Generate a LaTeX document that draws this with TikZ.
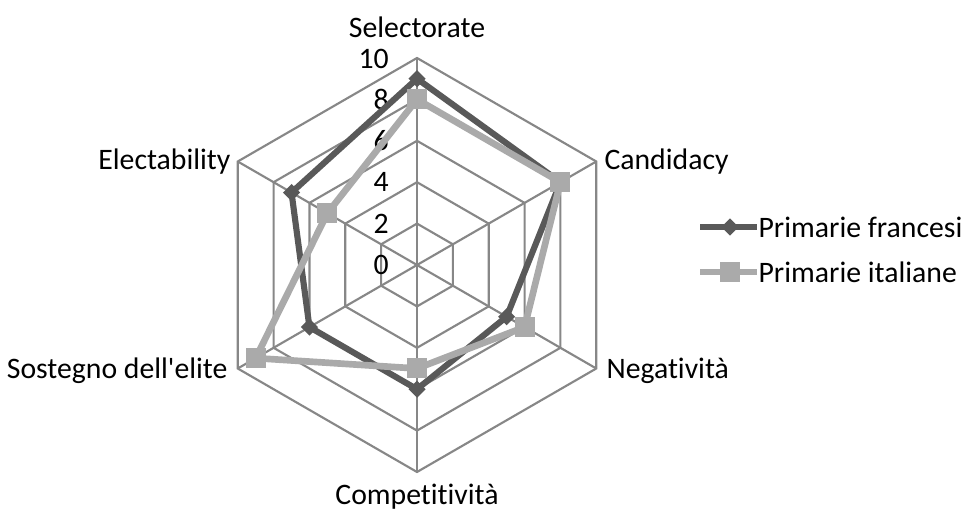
\documentclass[tikz,border=0pt]{standalone}
\usepackage{fontspec}
\setmainfont{Carlito}[Ligatures={NoCommon}]
\usepackage{xcolor}
\usepackage{tikz}
\usetikzlibrary{shapes.geometric,positioning,calc}
\definecolor{gridgray}{HTML}{878787}
\definecolor{frgray}{HTML}{595959}
\definecolor{itgray}{HTML}{AAAAAA}

\begin{document}
\begin{tikzpicture}[
    x=0.75pt, y=0.75pt,
    font=\fontsize{22.3}{26}\selectfont,
    gridline/.style={draw=gridgray, line width=1.6pt},
    frline/.style={draw=frgray, line width=4.6pt, line join=round},
    itline/.style={draw=itgray, line width=5pt, line join=round},
    frmark/.style={diamond, fill=frgray, inner sep=0pt, minimum size=13pt},
    itmark/.style={rectangle, fill=itgray, inner sep=0pt, minimum size=15pt},
    ticklab/.style={anchor=east, inner sep=0pt},
    axlab/.style={inner sep=0pt}
]
    \useasboundingbox (0,0) rectangle (962,513);

    \begin{scope}[shift={(417,248)}]
    % Grid (rings and spokes)
    \foreach \r in {2,4,6,8,10}
        \draw[gridline] (90:{20.7*\r}) -- (30:{20.7*\r}) -- (-30:{20.7*\r})
            -- (-90:{20.7*\r}) -- (-150:{20.7*\r}) -- (150:{20.7*\r}) -- cycle;
    \foreach \a in {90,30,-30,-90,-150,150}
        \draw[gridline] (0,0) -- (\a:207);

    % Scale labels
    \node[ticklab] (t0)  at (-28,0)     {0};
    \node[ticklab] (t2)  at (-28,41.4)  {2};
    \node[ticklab] (t4)  at (-28,82.8)  {4};
    \node[ticklab] (t6)  at (-28,124.2) {6};
    \node[ticklab] (t8)  at (-28,165.6) {8};
    \node[ticklab] (t10) at (-28,206)   {10};

    % Axis labels
    \node[axlab, anchor=south] (sel) at ($(90:207)+(0,20)$) {Selectorate};
    \node[axlab, anchor=west] (cand) at ($(30:207)+(8,0)$) {Candidacy};
    \node[axlab, anchor=west] (neg) at ($(-30:207)+(10,-2)$) {Negatività};
    \node[axlab, anchor=north] (comp) at ($(-90:207)+(0,-12)$) {Competitività};
    \node[axlab, anchor=east] (sost) at ($(-150:207)+(-10,-2)$) {Sostegno dell\textquotesingle elite};
    \node[axlab, anchor=east] (elec) at ($(150:207)+(-7,0)$) {Electability};

    % Primarie francesi
    \coordinate (fr1) at (90:{9*20.7});
    \coordinate (fr2) at (30:{8*20.7});
    \coordinate (fr3) at (-30:{5*20.7});
    \coordinate (fr4) at (-90:{6*20.7});
    \coordinate (fr5) at (-150:{6*20.7});
    \coordinate (fr6) at (150:{7*20.7});
    \draw[frline] (fr1) -- (fr2) -- (fr3) -- (fr4) -- (fr5) -- (fr6) -- cycle;
    \node[frmark] (frm1) at (fr1) {};
    \node[frmark] (frm2) at (fr2) {};
    \node[frmark] (frm3) at (fr3) {};
    \node[frmark] (frm4) at (fr4) {};
    \node[frmark] (frm5) at (fr5) {};
    \node[frmark] (frm6) at (fr6) {};

    % Primarie italiane
    \coordinate (it1) at (90:{8*20.7});
    \coordinate (it2) at (30:{8*20.7});
    \coordinate (it3) at (-30:{6*20.7});
    \coordinate (it4) at (-90:{5*20.7});
    \coordinate (it5) at (-150:{9*20.7});
    \coordinate (it6) at (150:{5*20.7});
    \draw[itline] (it1) -- (it2) -- (it3) -- (it4) -- (it5) -- (it6) -- cycle;
    \node[itmark] (itm1) at (it1) {};
    \node[itmark] (itm2) at (it2) {};
    \node[itmark] (itm3) at (it3) {};
    \node[itmark] (itm4) at (it4) {};
    \node[itmark] (itm5) at (it5) {};
    \node[itmark] (itm6) at (it6) {};
    \end{scope}

    % Legend
    \coordinate (lfa) at (700,286);
    \coordinate (lfb) at (757,286);
    \draw[frline] (lfa) -- (lfb);
    \node[frmark] (lfm) at (730,286) {};
    \node[anchor=west, inner sep=1pt] (lft) at (lfb) {Primarie francesi};

    \coordinate (lia) at (700,241);
    \coordinate (lib) at (757,241);
    \draw[itline] (lia) -- (lib);
    \node[itmark] (lim) at (730,241) {};
    \node[anchor=west, inner sep=1pt] (lit) at (lib) {Primarie italiane};
\end{tikzpicture}
\end{document}
